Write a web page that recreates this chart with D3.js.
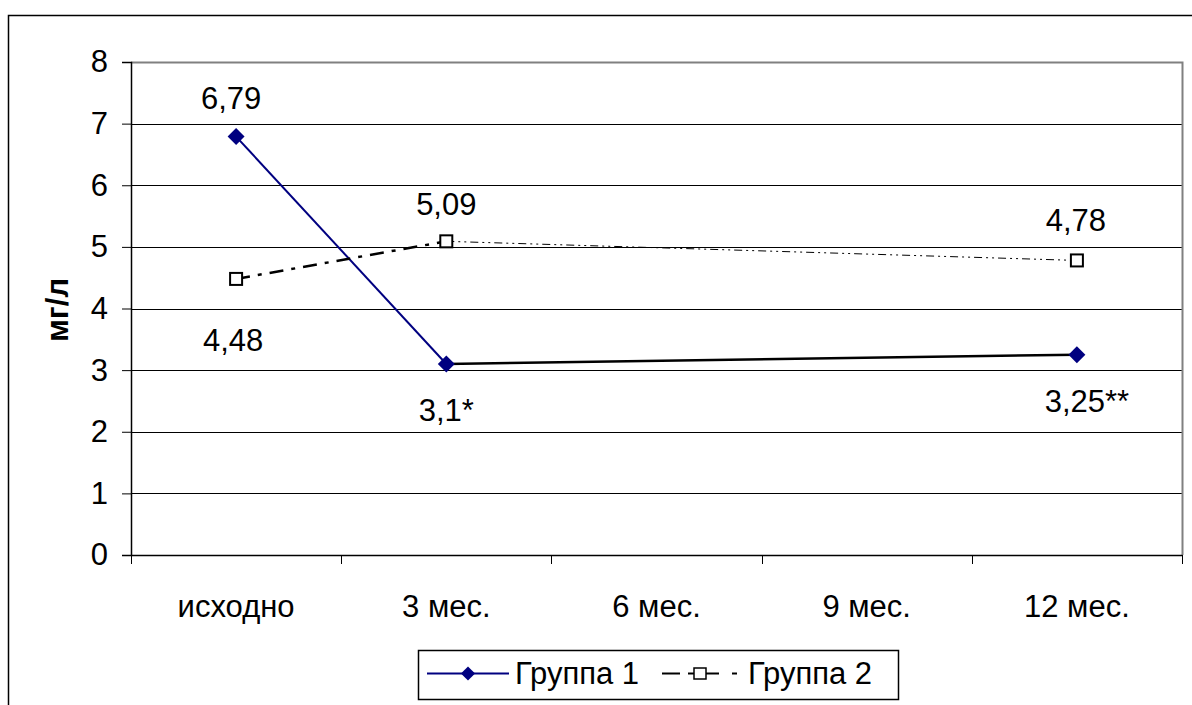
<!DOCTYPE html>
<html>
<head>
<meta charset="utf-8">
<script src="https://cdn.jsdelivr.net/npm/d3@7"></script>
<style>
  html, body { margin: 0; padding: 0; background: #fff; }
  svg { display: block; font-family: "Liberation Sans", Arial, sans-serif; }
</style>
</head>
<body>
<svg id="chart" width="1192" height="705"></svg>
<script>
// Categories and series values
const categories = ["исходно", "3 мес.", "6 мес.", "9 мес.", "12 мес."];
const group1 = [6.79, 3.1, null, null, 3.25];
const group2 = [4.48, 5.09, null, null, 4.78];
const group1Labels = ["6,79", "3,1*", null, null, "3,25**"];
const group2Labels = ["4,48", "5,09", null, null, "4,78"];
const yTicks = [0, 1, 2, 3, 4, 5, 6, 7, 8];
const seriesNames = ["Группа 1", "Группа 2"];

const FONT = "Liberation Sans, Arial, sans-serif";
const FS = 31;

const svg = d3.select("#chart");
const plot = { left: 131, right: 1182, top: 62, bottom: 555 };

// outer frame
svg.append("rect").attr("x", 8.5).attr("y", 15.5).attr("width", 1200).attr("height", 720)
  .attr("fill", "none").attr("stroke", "#000").attr("stroke-width", 1.5);

const x = d3.scaleBand().domain(categories).range([plot.left, plot.right]).paddingInner(0).paddingOuter(0);
const y = d3.scaleLinear().domain([0, 8]).range([plot.bottom, plot.top]);
const cx = c => x(c) + x.bandwidth() / 2;

// horizontal gridlines
svg.append("g").selectAll("line").data(yTicks.filter(t => t > 0 && t < 8)).join("line")
  .attr("x1", plot.left).attr("x2", plot.right)
  .attr("y1", d => Math.round(y(d)) + 0.5).attr("y2", d => Math.round(y(d)) + 0.5)
  .attr("stroke", "#000").attr("stroke-width", 1);

// plot area border (top, right)
svg.append("path")
  .attr("d", `M${plot.left},${y(8) + 0.5}H${plot.right + 0.5}V${plot.bottom}`)
  .attr("fill", "none").attr("stroke", "#808080").attr("stroke-width", 2);

// y axis
const yAxis = d3.axisLeft(y).tickValues(yTicks).tickSize(9).tickPadding(14).tickFormat(d3.format("d"));
const gy = svg.append("g").attr("transform", `translate(${plot.left},0)`).call(yAxis);
gy.attr("font-size", FS).attr("font-family", FONT);
gy.select(".domain").attr("stroke", "#000").attr("stroke-width", 1.5);
gy.selectAll(".tick line").attr("stroke", "#000");
gy.selectAll(".tick text").attr("fill", "#000");

// x axis
const xAxis = d3.axisBottom(x).tickSize(0).tickPadding(40);
const gx = svg.append("g").attr("transform", `translate(0,${plot.bottom})`).call(xAxis);
gx.attr("font-size", FS).attr("font-family", FONT);
gx.select(".domain").attr("stroke", "#000").attr("stroke-width", 1.5);
gx.selectAll(".tick text").attr("fill", "#000");
// category boundary ticks
const bounds = categories.map(c => x(c)).concat([plot.right]);
svg.append("g").selectAll("line").data(bounds).join("line")
  .attr("x1", d => Math.round(d) + 0.5).attr("x2", d => Math.round(d) + 0.5)
  .attr("y1", plot.bottom).attr("y2", plot.bottom + 9)
  .attr("stroke", "#000").attr("stroke-width", 1);

// y axis title
svg.append("text").attr("transform", "translate(68,310) rotate(-90)")
  .attr("text-anchor", "middle").attr("font-size", FS).attr("font-weight", "bold")
  .text("мг/л");

// build point lists
const pts = (vals) => categories.map((c, i) => ({ c, v: vals[i], i })).filter(d => d.v != null);
const p1 = pts(group1), p2 = pts(group2);

// Group 1 segments
const seg = (a, b) => `M${cx(a.c)},${y(a.v)}L${cx(b.c)},${y(b.v)}`;
svg.append("path").attr("d", seg(p1[0], p1[1])).attr("stroke", "#000080").attr("stroke-width", 2).attr("fill", "none");
svg.append("path").attr("d", seg(p1[1], p1[2])).attr("stroke", "#000").attr("stroke-width", 2.5).attr("fill", "none");

// Group 2 segments
svg.append("path").attr("d", seg(p2[0], p2[1])).attr("stroke", "#000").attr("stroke-width", 2.5)
  .attr("stroke-dasharray", "14 8 4 8").attr("fill", "none");
svg.append("path").attr("d", seg(p2[1], p2[2])).attr("stroke", "#000").attr("stroke-width", 1)
  .attr("stroke-dasharray", "8 4 2 4 2 4").attr("fill", "none");

// markers
svg.append("g").selectAll("path").data(p1).join("path")
  .attr("d", d3.symbol().type(d3.symbolSquare).size(144))
  .attr("transform", d => `translate(${cx(d.c)},${y(d.v)}) rotate(45)`)
  .attr("fill", "#000080");
svg.append("g").selectAll("rect").data(p2).join("rect")
  .attr("x", d => cx(d.c) - 6).attr("y", d => y(d.v) - 6)
  .attr("width", 12).attr("height", 12)
  .attr("fill", "#fff").attr("stroke", "#000").attr("stroke-width", 2);

// data labels
const lbl1Offsets = [{ dx: -5, dy: -28 }, { dx: 0, dy: 57 }, null, null, { dx: 10, dy: 57 }];
const lbl2Offsets = [{ dx: -3, dy: 72 }, { dx: 0, dy: -26 }, null, null, { dx: -1, dy: -29 }];
const addLabels = (points, labels, offs) => {
  svg.append("g").selectAll("text").data(points).join("text")
    .attr("x", d => cx(d.c) + offs[d.i].dx).attr("y", d => y(d.v) + offs[d.i].dy)
    .attr("text-anchor", "middle").attr("font-size", FS).attr("fill", "#000")
    .text(d => labels[d.i]);
};
addLabels(p1, group1Labels, lbl1Offsets);
addLabels(p2, group2Labels, lbl2Offsets);

// legend
const lg = svg.append("g").attr("transform", "translate(418,650)");
lg.append("rect").attr("x", 0.5).attr("y", 0.5).attr("width", 480).attr("height", 49)
  .attr("fill", "#fff").attr("stroke", "#000").attr("stroke-width", 1.5);
lg.append("line").attr("x1", 9).attr("x2", 91).attr("y1", 23.5).attr("y2", 23.5)
  .attr("stroke", "#000080").attr("stroke-width", 2);
lg.append("path").attr("d", d3.symbol().type(d3.symbolSquare).size(100))
  .attr("transform", "translate(50,23.5) rotate(45)").attr("fill", "#000080");
lg.append("text").attr("x", 97).attr("y", 34).attr("font-size", FS).text(seriesNames[0]);
[[244, 262], [270, 301], [314, 319]].forEach(([a, b]) => {
  lg.append("line").attr("x1", a).attr("x2", b).attr("y1", 23.5).attr("y2", 23.5)
    .attr("stroke", "#000").attr("stroke-width", 2);
});
lg.append("rect").attr("x", 276).attr("y", 18).attr("width", 12).attr("height", 11)
  .attr("fill", "#fff").attr("stroke", "#000").attr("stroke-width", 1.5);
lg.append("text").attr("x", 330).attr("y", 34).attr("font-size", FS).text(seriesNames[1]);
</script>
</body>
</html>
